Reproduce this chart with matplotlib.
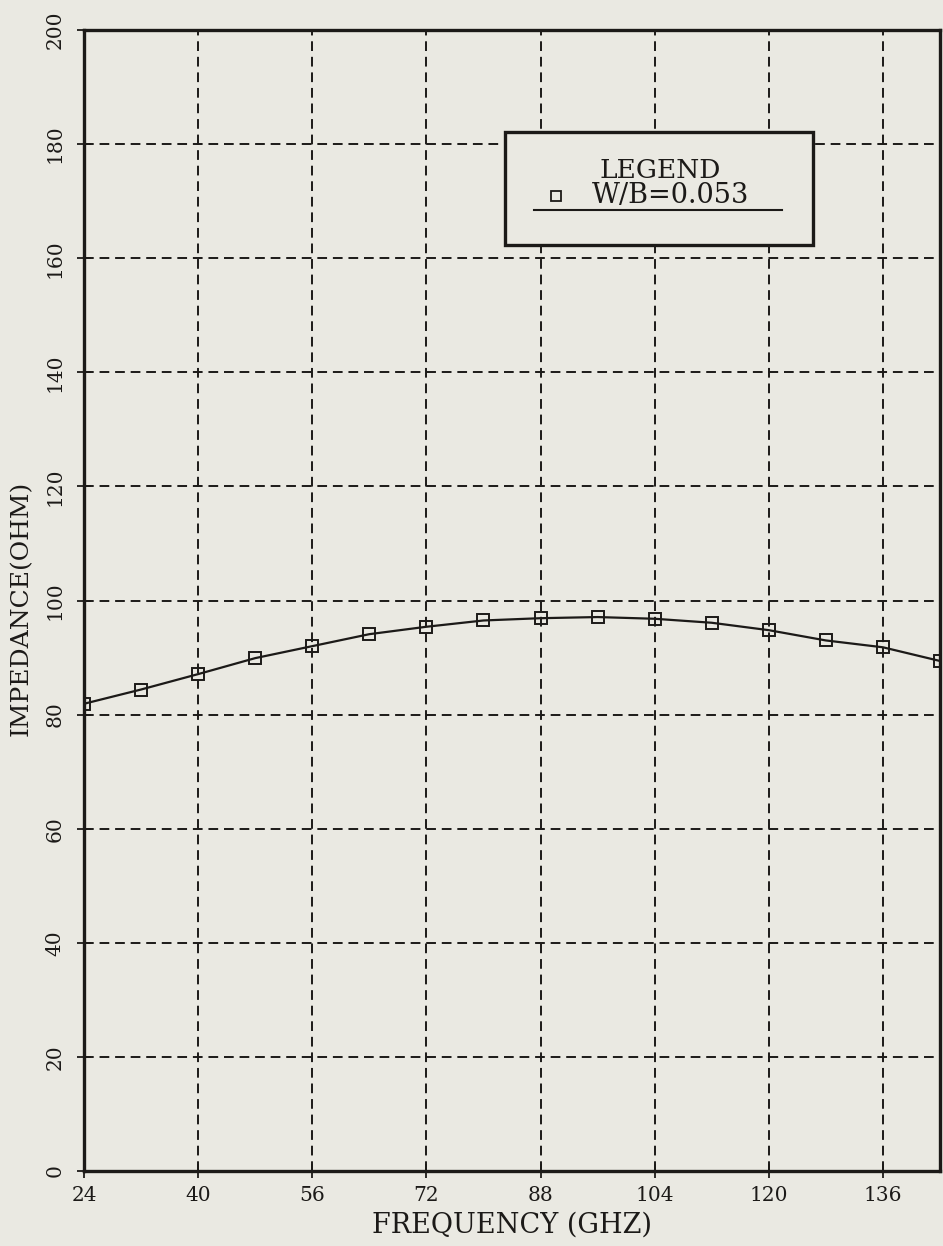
import matplotlib
matplotlib.use("Agg")
import matplotlib.pyplot as plt
from matplotlib.patches import Rectangle
from matplotlib.lines import Line2D

# ---- data ----
frequency_ghz = [24, 32, 40, 48, 56, 64, 72, 80, 88, 96, 104, 112, 120, 128, 136, 144]
impedance_ohm = [81.9, 84.4, 87.1, 89.9, 92.0, 94.1, 95.4, 96.5, 96.9, 97.1, 96.8, 96.1, 94.8, 93.0, 91.8, 89.4]
x_ticks = [24, 40, 56, 72, 88, 104, 120, 136]
y_ticks = [0, 20, 40, 60, 80, 100, 120, 140, 160, 180, 200]
series_label = "W/B=0.053"

BG = "#eae9e2"
INK = "#1c1a18"
FONT = "DejaVu Serif"

fig = plt.figure(figsize=(9.43, 12.46), dpi=100, facecolor=BG)
ax = fig.add_axes([0.0891, 0.0602, 0.9077, 0.9157], facecolor=BG)

ax.set_xlim(24, 144)
ax.set_ylim(0, 200)

# grid
for xv in x_ticks[1:]:
    ax.axvline(xv, color=INK, lw=1.4, ls=(0, (5, 3)), zorder=1)
for yv in y_ticks[1:-1]:
    ax.axhline(yv, color=INK, lw=1.4, ls=(0, (5, 3)), zorder=1)

ax.plot(frequency_ghz, impedance_ohm, color=INK, lw=1.6, marker="s", ms=8.5,
        mfc="none", mec=INK, mew=1.4, zorder=3, clip_on=True)

ax.set_xticks(x_ticks)
ax.set_yticks(y_ticks)
ax.tick_params(direction="inout", length=10, width=1.3, colors=INK,
               labelsize=14.5)
ax.tick_params(axis="x", pad=6)
ax.tick_params(axis="y", pad=9)
for lab in ax.get_xticklabels():
    lab.set_fontfamily(FONT)
for lab in ax.get_yticklabels():
    lab.set_fontfamily(FONT)
    lab.set_rotation(90)
    lab.set_va("center")

for s in ax.spines.values():
    s.set_color(INK)
    s.set_linewidth(2.4)

ax.set_xlabel("FREQUENCY (GHZ)", fontfamily=FONT, fontsize=19.5, color=INK)
ax.set_ylabel("IMPEDANCE(OHM)", fontfamily=FONT, fontsize=18, color=INK)
ax.xaxis.set_label_coords(0.5, -0.036)
ax.yaxis.set_label_coords(-0.060, 0.493)

# legend box (drawn manually)
box = Rectangle((0.492, 0.8116), 0.360, 0.099, transform=ax.transAxes,
                facecolor=BG, edgecolor=INK, lw=2.4, zorder=5)
ax.add_patch(box)
ax.text(0.673, 0.877, "LEGEND", transform=ax.transAxes, ha="center", va="center",
        fontfamily=FONT, fontsize=19, color=INK, zorder=6)
ax.text(0.685, 0.855, series_label, transform=ax.transAxes, ha="center", va="center",
        fontfamily=FONT, fontsize=19.5, color=INK, zorder=6)
ax.add_line(Line2D([0.551], [0.8545], transform=ax.transAxes, marker="s", ms=7,
                   mfc="none", mec=INK, mew=1.3, ls="none", zorder=6))
ax.add_line(Line2D([0.526, 0.816], [0.842, 0.842], transform=ax.transAxes,
                   color=INK, lw=1.5, zorder=6))

fig.savefig("out.png", dpi=100, facecolor=BG)
